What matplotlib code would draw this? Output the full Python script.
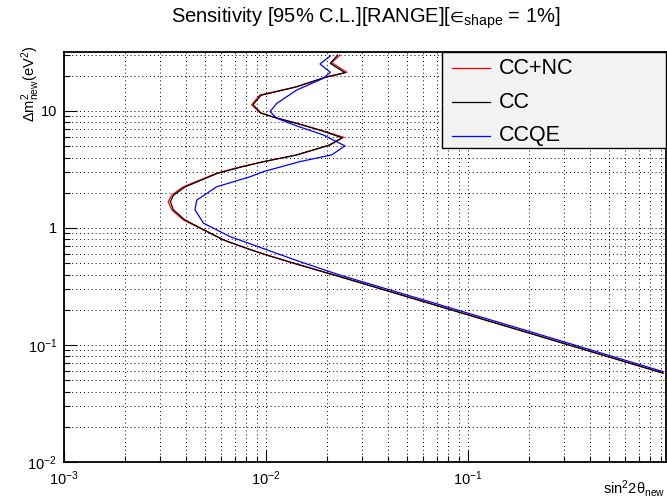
import matplotlib
matplotlib.use("Agg")
import matplotlib.pyplot as plt
from matplotlib.lines import Line2D
from matplotlib.patches import Rectangle
from matplotlib.ticker import FixedLocator, FixedFormatter, LogLocator, NullFormatter

plt.rcParams['font.family'] = ['Liberation Sans', 'DejaVu Sans']
plt.rcParams['mathtext.fontset'] = 'custom'
plt.rcParams['mathtext.rm'] = 'Liberation Sans'
plt.rcParams['mathtext.it'] = 'Liberation Sans:italic'
plt.rcParams['mathtext.bf'] = 'Liberation Sans:bold'
plt.rcParams['mathtext.fallback'] = 'stixsans'

# sensitivity contours (sin^2 2theta, dm^2 in eV^2)
cc_nc_x = [0.0232, 0.0211, 0.0251, 0.0200, 0.0142, 0.00933, 0.00849, 0.00933, 0.01084,
           0.0142, 0.0185, 0.0242, 0.0208, 0.0142, 0.00970, 0.00743, 0.00570, 0.00390,
           0.00341, 0.00328, 0.00341, 0.00390, 0.00490, 0.00616, 0.00801, 0.01007,
           0.01472, 0.0232, 0.203, 0.923]
cc_nc_y = [30.0, 25.9, 21.4, 19.6, 16.1, 13.7, 11.3, 9.67, 8.89,
           7.85, 6.88, 5.96, 5.12, 4.21, 3.69, 3.32, 2.94, 2.25,
           1.91, 1.68, 1.43, 1.17, 0.962, 0.789, 0.670, 0.587,
           0.483, 0.384, 0.126, 0.0574]

cc_x = [0.0226, 0.0208, 0.0246, 0.0197, 0.0140, 0.00945, 0.00862, 0.00945, 0.0110,
        0.0143, 0.0185, 0.0238, 0.0205, 0.0141, 0.0097, 0.0075, 0.00575, 0.00397,
        0.00348, 0.00336, 0.00348, 0.00397, 0.00495, 0.0062, 0.00805, 0.0101,
        0.0147, 0.0232, 0.203, 0.923]
cc_y = [30.0, 25.5, 21.2, 19.4, 16.0, 13.6, 11.3, 9.6, 8.8,
        7.8, 6.85, 5.9, 5.1, 4.2, 3.68, 3.31, 2.93, 2.24,
        1.90, 1.68, 1.43, 1.17, 0.96, 0.787, 0.668, 0.586,
        0.482, 0.383, 0.1255, 0.0575]

ccqe_x = [0.0208, 0.0185, 0.0208, 0.0192, 0.0142, 0.01130, 0.01047, 0.01130, 0.0142,
          0.0192, 0.0246, 0.0211, 0.01472, 0.0097, 0.00834, 0.00570, 0.00454, 0.00445,
          0.00490, 0.00664, 0.01472, 0.0232, 0.203, 0.923]
ccqe_y = [29.5, 25.2, 21.4, 19.0, 15.1, 11.6, 9.87, 8.66, 7.45,
          6.24, 5.02, 4.21, 3.69, 3.03, 2.74, 2.25, 1.73, 1.43,
          1.10, 0.843, 0.515, 0.396, 0.130, 0.0592]

series = [("CC+NC", cc_nc_x, cc_nc_y, "#ff0000"),
          ("CC", cc_x, cc_y, "#000000"),
          ("CCQE", ccqe_x, ccqe_y, "#0000ff")]

x_major = [1e-3, 1e-2, 1e-1]
x_major_labels = [r"$10^{-3}$", r"$10^{-2}$", r"$10^{-1}$"]
y_major = [1e-2, 1e-1, 1, 10]
y_major_labels = [r"$10^{-2}$", r"$10^{-1}$", "1", "10"]

W, H = 667, 504
fig = plt.figure(figsize=(W / 100, H / 100), dpi=100)
ax = fig.add_axes([64 / W, 1 - 462 / H, (666 - 64) / W, (462 - 52) / H])

for name, xs, ys, col in series:
    ax.plot(xs, ys, color=col, lw=0.9, label=name)

ax.set_xscale("log")
ax.set_yscale("log")
ax.set_xlim(1e-3, 0.955)
ax.set_ylim(1e-2, 31.9)

ax.xaxis.set_major_locator(FixedLocator(x_major))
ax.xaxis.set_major_formatter(FixedFormatter(x_major_labels))
ax.yaxis.set_major_locator(FixedLocator(y_major))
ax.yaxis.set_major_formatter(FixedFormatter(y_major_labels))
for a in (ax.xaxis, ax.yaxis):
    a.set_minor_locator(LogLocator(base=10, subs=range(2, 10)))
    a.set_minor_formatter(NullFormatter())

ax.tick_params(which="both", direction="in", top=False, right=False,
               labelsize=10.5, width=0.8, color="black")
ax.tick_params(which="major", length=9)
ax.tick_params(which="minor", length=4.5)
ax.tick_params(axis="x", pad=5)
ax.tick_params(axis="y", pad=5)

ax.grid(True, which="both", color="black", lw=0.7, linestyle=(0, (1, 3)))
ax.set_axisbelow(True)
for sp in ax.spines.values():
    sp.set_linewidth(1.3)

fig.text(366 / W, 1 - 18 / H,
         "Sensitivity [95% C.L.][RANGE][$\u2208_{\\mathrm{shape}}$ = 1%]",
         ha="center", va="center", fontsize=14.5)
fig.text(31 / W, 1 - 46 / H, r"$\Delta\mathrm{m}^{2}_{\mathrm{new}}(\mathrm{eV}^{2})$",
         rotation=90, ha="center", va="top", fontsize=10.5)
fig.text(665 / W, 1 - 494 / H, r"$\mathrm{sin}^{2}2\mathrm{\theta}_{\mathrm{new}}$",
         ha="right", va="baseline", fontsize=10.5)

# legend box, drawn by hand to sit where ROOT put it
fig.add_artist(Rectangle((442 / W, 1 - 148 / H), (666 - 442) / W, (148 - 52) / H,
                         transform=fig.transFigure, facecolor="#f2f2f2",
                         edgecolor="black", lw=1.0, zorder=5))
for i, (name, xs, ys, col) in enumerate(series):
    yy = 1 - (68 + 34 * i) / H
    fig.add_artist(Line2D([452 / W, 490 / W], [yy, yy], transform=fig.transFigure,
                          color=col, lw=0.9, zorder=6))
    fig.text(499 / W, yy, name, ha="left", va="center", fontsize=15.5, zorder=6)

fig.savefig("out.png", dpi=100)
